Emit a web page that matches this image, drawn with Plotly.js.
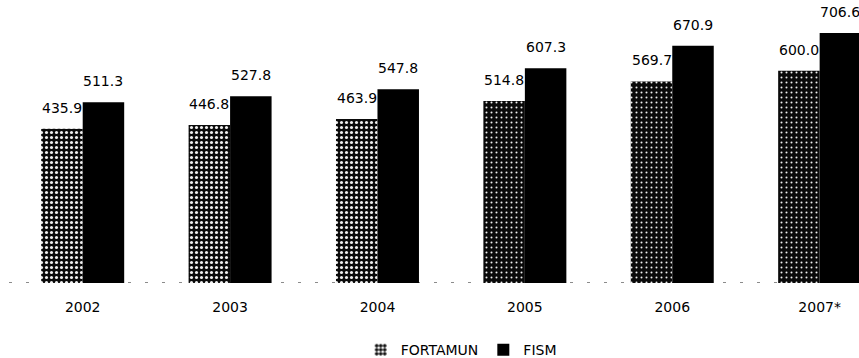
<!DOCTYPE html>
<html>
<head>
<meta charset="utf-8">
<script src="https://cdn.plot.ly/plotly-3.0.1.min.js"></script>
<style>html,body{margin:0;padding:0;background:#fff;}#chart{width:859px;height:358px;}</style>
</head>
<body>
<div id="chart"></div>
<script>
const years = ['2002', '2003', '2004', '2005', '2006', '2007*'];
const fortamun = [435.9, 446.8, 463.9, 514.8, 569.7, 600.0];
const fism = [511.3, 527.8, 547.8, 607.3, 670.9, 706.6];
const seriesNames = ['FORTAMUN', 'FISM'];

const FONT = 'DejaVu Sans, Liberation Sans, Arial, sans-serif';
const speckle = [0.3, 0.3, 0.3, 0.13, 0.13, 0.13];

const traces = [
  {
    type: 'bar', name: seriesNames[0], x: years, y: fortamun,
    marker: {
      color: '#111',
      line: {width: 0},
      pattern: {shape: '.', fgcolor: '#f0f0f0', bgcolor: '#0a0a0a', size: 5, solidity: speckle, fillmode: 'replace'}
    },
    hoverinfo: 'skip'
  },
  {
    type: 'bar', name: seriesNames[1], x: years, y: fism,
    marker: {color: '#000', line: {width: 0}},
    hoverinfo: 'skip'
  }
];

const annotations = [];
years.forEach((yr, i) => {
  annotations.push({x: i, y: fortamun[i], xref: 'x', yref: 'y', text: fortamun[i].toFixed(1),
    showarrow: false, xshift: -20.7, yshift: 21, yanchor: 'middle', xanchor: 'center',
    font: {family: FONT, size: 14, color: '#000'}});
  annotations.push({x: i, y: fism[i], xref: 'x', yref: 'y', text: fism[i].toFixed(1),
    showarrow: false, xshift: 20.7, yshift: 21, yanchor: 'middle', xanchor: 'center',
    font: {family: FONT, size: 14, color: '#000'}});
});

const layout = {
  width: 859, height: 358,
  margin: {l: 9, r: 0, t: 0, b: 75, pad: 0, autoexpand: false},
  paper_bgcolor: '#fff', plot_bgcolor: '#fff',
  barmode: 'group', bargap: 0.437, bargroupgap: 0,
  showlegend: true,
  legend: {orientation: 'h', x: 0.532, xanchor: 'center', y: -0.237, yanchor: 'middle',
    font: {family: FONT, size: 14, color: '#000'}, traceorder: 'normal', itemwidth: 30},
  xaxis: {type: 'category', range: [-0.5, 5.267], showgrid: false, zeroline: false,
    showline: false, ticks: '', ticklabelstandoff: 14,
    tickfont: {family: FONT, size: 14, color: '#000'}, fixedrange: true},
  yaxis: {range: [0, 800], visible: false, showgrid: false, zeroline: false, fixedrange: true},
  shapes: [{type: 'line', xref: 'paper', x0: 0, x1: 1, yref: 'y', y0: 0, y1: 0,
    line: {color: '#666', width: 1.5, dash: '3px,14px'}, layer: 'below'}],
  annotations: annotations
};

Plotly.newPlot('chart', traces, layout, {displayModeBar: false, staticPlot: true});
</script>
</body>
</html>
